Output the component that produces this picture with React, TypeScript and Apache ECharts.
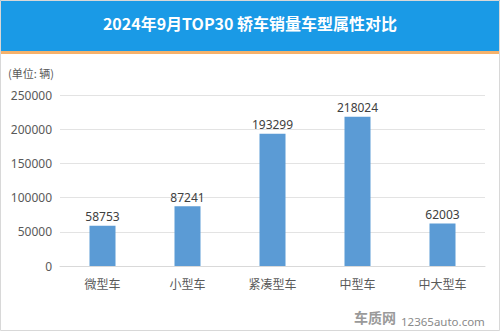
import React, { useEffect, useRef } from "react";
import * as echarts from "echarts";

const categories = ["微型车", "小型车", "紧凑型车", "中型车", "中大型车"];
const values = [58753, 87241, 193299, 218024, 62003];
const titleText = "2024年9月TOP30 轿车销量车型属性对比";
const unitText = "(单位: 辆)";

export default function App() {
  const ref = useRef<HTMLDivElement>(null);
  useEffect(() => {
    document.body.style.margin = "0";
    const chart = echarts.init(ref.current!, null, { renderer: "svg" });
    chart.setOption({
      animation: false,
      backgroundColor: "#ffffff",
      grid: { left: 60, right: 15, top: 95, bottom: 65 },
      graphic: [
        { type: "rect", left: 0, top: 0, shape: { width: 500, height: 51 }, style: { fill: "#1a9ae6" } },
        { type: "rect", left: 0, top: 51, shape: { width: 500, height: 3 }, style: { fill: "#f6b26b" } },
        {
          type: "text", left: "center", top: 15,
          style: { text: titleText, fill: "#ffffff", font: "bold 16px 'Noto Sans CJK SC', sans-serif" },
        },
        {
          type: "text", left: 8, top: 67,
          style: { text: unitText, fill: "#595959", font: "11px 'Noto Sans CJK SC', sans-serif" },
        },
        {
          type: "text", x: 354, y: 310,
          style: { text: "车质网", fill: "#9a9a9a", font: "bold 14px 'Noto Sans CJK SC', sans-serif" },
        },
        {
          type: "text", x: 401, y: 315,
          style: { text: "12365auto.com", fill: "#8a8a8a", font: "11.5px 'Noto Sans', sans-serif" },
        },
        {
          type: "rect", x: 0.5, y: 0.5,
          shape: { width: 499, height: 330 },
          style: { fill: "none", stroke: "#d8d8d8", lineWidth: 1 },
          z: 100,
        },
      ],
      xAxis: {
        type: "category",
        data: categories,
        axisLine: { lineStyle: { color: "#d9d9d9" } },
        axisTick: { show: false },
        axisLabel: { color: "#595959", fontSize: 12, margin: 11, fontFamily: "'Noto Sans CJK SC', sans-serif" },
      },
      yAxis: {
        type: "value",
        min: 0,
        max: 250000,
        interval: 50000,
        axisLine: { show: false },
        axisTick: { show: false },
        axisLabel: {
          color: "#595959", fontSize: 12, margin: 8, fontFamily: "'Noto Sans', sans-serif",
          formatter: (v: number) => String(v),
        },
        splitLine: { lineStyle: { color: "#e3e3e3" } },
      },
      series: [
        {
          type: "bar",
          data: values,
          barWidth: 26,
          itemStyle: { color: "#5b9bd5" },
          label: {
            show: true, position: "top", color: "#404040", fontSize: 12,
            fontFamily: "'Noto Sans', sans-serif", distance: 3,
          },
        },
      ],
    });
    return () => chart.dispose();
  }, []);
  return <div ref={ref} style={{ width: 500, height: 331, position: "fixed", left: 0, top: 0 }} />;
}
